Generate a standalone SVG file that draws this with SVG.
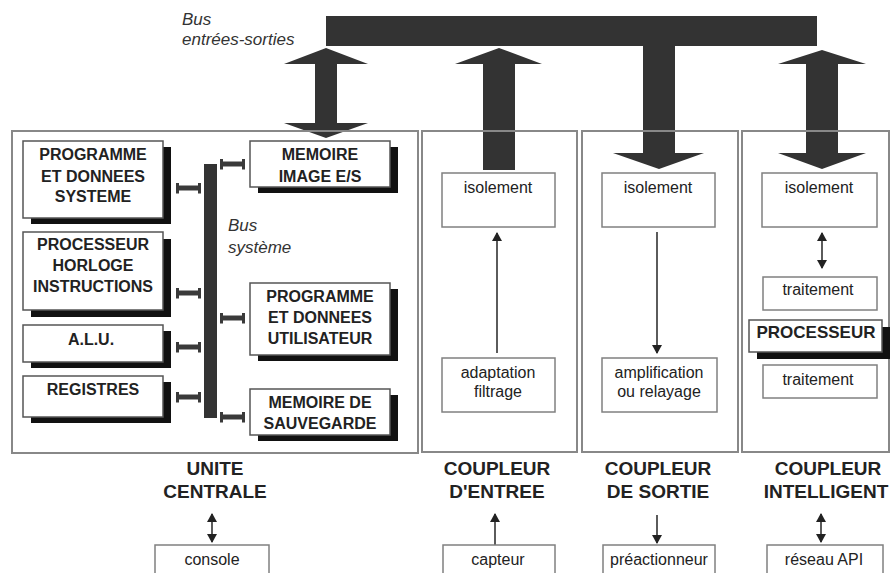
<svg xmlns="http://www.w3.org/2000/svg" width="891" height="573" viewBox="0 0 891 573">
<defs>
<style>
.outer{fill:none;stroke:#888;stroke-width:2}
.ib{fill:#fff;stroke:#555;stroke-width:1.5}
.sh{fill:#111}
.cb{fill:#fff;stroke:#808080;stroke-width:1.5}
.big{fill:#333}
.cap{font-family:"Liberation Sans",Arial,sans-serif;font-weight:bold;font-size:16px;fill:#222;text-anchor:middle}
.lbl{font-family:"Liberation Sans",Arial,sans-serif;font-weight:bold;font-size:19px;fill:#222;text-anchor:middle}
.low{font-family:"Liberation Sans",Arial,sans-serif;font-size:16px;fill:#222;text-anchor:middle}
.it{font-family:"Liberation Sans",Arial,sans-serif;font-style:italic;font-size:17px;fill:#333}
.thin{stroke:#333;stroke-width:1.6;fill:none}
.conn{stroke:#3a3a3a;stroke-width:5;fill:none}
</style>
<marker id="ah" markerUnits="userSpaceOnUse" markerWidth="10" markerHeight="10" refX="8" refY="5" orient="auto-start-reverse">
<path d="M0,0 L9,5 L0,10 Z" fill="#222"/>
</marker>
<marker id="bar" markerUnits="userSpaceOnUse" markerWidth="4" markerHeight="11" refX="2" refY="5.5" orient="auto">
<rect width="3" height="11" fill="#3a3a3a"/>
</marker>
</defs>

<rect x="326" y="16" width="491" height="30" class="big"/>
<text class="it" x="182" y="25">Bus</text>
<text class="it" x="182" y="45">entrées-sorties</text>

<g id="connectors">
<path class="big" d="M326,48 L368,64 L337,64 L337,123 L368,123 L326,138 L284,123 L315,123 L315,64 L284,64 Z"/>
<path class="big" d="M499,48 L542,64 L515,64 L515,170 L483,170 L483,64 L455,64 Z"/>
<path class="big" d="M643,46 L675,46 L675,153 L704,153 L659,169 L613,153 L643,153 Z"/>
<path class="big" d="M822,50 L866,64 L838,64 L838,153 L866,153 L822,169 L778,153 L806,153 L806,64 L778,64 Z"/>
<rect x="204" y="164" width="13" height="254" class="big"/>
<line class="conn" x1="178" y1="188" x2="200" y2="188" marker-start="url(#bar)" marker-end="url(#bar)"/>
<line class="conn" x1="178" y1="293" x2="200" y2="293" marker-start="url(#bar)" marker-end="url(#bar)"/>
<line class="conn" x1="178" y1="347" x2="200" y2="347" marker-start="url(#bar)" marker-end="url(#bar)"/>
<line class="conn" x1="178" y1="397" x2="200" y2="397" marker-start="url(#bar)" marker-end="url(#bar)"/>
<line class="conn" x1="222" y1="164" x2="244" y2="164" marker-start="url(#bar)" marker-end="url(#bar)"/>
<line class="conn" x1="222" y1="318" x2="244" y2="318" marker-start="url(#bar)" marker-end="url(#bar)"/>
<line class="conn" x1="222" y1="417" x2="244" y2="417" marker-start="url(#bar)" marker-end="url(#bar)"/>
<line class="thin" x1="497" y1="353" x2="497" y2="233" marker-end="url(#ah)"/>
<line class="thin" x1="657" y1="232" x2="657" y2="353" marker-end="url(#ah)"/>
<line class="thin" x1="822" y1="233" x2="822" y2="268" marker-start="url(#ah)" marker-end="url(#ah)"/>
<line class="thin" x1="212" y1="514" x2="212" y2="542" marker-start="url(#ah)" marker-end="url(#ah)"/>
<line class="thin" x1="495" y1="545" x2="495" y2="514" marker-end="url(#ah)"/>
<line class="thin" x1="657" y1="515" x2="657" y2="543" marker-end="url(#ah)"/>
<line class="thin" x1="821" y1="514" x2="821" y2="542" marker-start="url(#ah)" marker-end="url(#ah)"/>
</g>

<g id="unite-centrale">
<rect class="outer" x="12" y="131" width="406" height="322"/>
<text class="lbl" x="215" y="475">UNITE</text>
<text class="lbl" x="215" y="498">CENTRALE</text>
</g>
<g id="prog-sys">
<rect class="sh" x="31" y="147" width="140" height="77"/>
<rect class="ib" x="23" y="141" width="140" height="77"/>
<text class="cap" x="93" y="160">PROGRAMME</text>
<text class="cap" x="93" y="182">ET DONNEES</text>
<text class="cap" x="93" y="202">SYSTEME</text>
</g>
<g id="processeur-uc">
<rect class="sh" x="31" y="239" width="140" height="78"/>
<rect class="ib" x="23" y="232" width="140" height="78"/>
<text class="cap" x="93" y="250">PROCESSEUR</text>
<text class="cap" x="93" y="271">HORLOGE</text>
<text class="cap" x="93" y="292">INSTRUCTIONS</text>
</g>
<g id="alu">
<rect class="sh" x="31" y="331" width="140" height="37"/>
<rect class="ib" x="23" y="325" width="140" height="37"/>
<text class="cap" x="91" y="345">A.L.U.</text>
</g>
<g id="registres">
<rect class="sh" x="31" y="382" width="140" height="41"/>
<rect class="ib" x="23" y="376" width="140" height="41"/>
<text class="cap" x="93" y="395">REGISTRES</text>
</g>
<g id="memoire-image">
<rect class="sh" x="258" y="147" width="140" height="46"/>
<rect class="ib" x="250" y="141" width="140" height="46"/>
<text class="cap" x="320" y="160">MEMOIRE</text>
<text class="cap" x="320" y="182">IMAGE E/S</text>
</g>
<g id="prog-util">
<rect class="sh" x="258" y="289" width="140" height="72"/>
<rect class="ib" x="250" y="283" width="140" height="72"/>
<text class="cap" x="320" y="302">PROGRAMME</text>
<text class="cap" x="320" y="323">ET DONNEES</text>
<text class="cap" x="320" y="344">UTILISATEUR</text>
</g>
<g id="memoire-sauvegarde">
<rect class="sh" x="258" y="395" width="140" height="46"/>
<rect class="ib" x="250" y="389" width="140" height="46"/>
<text class="cap" x="320" y="408">MEMOIRE DE</text>
<text class="cap" x="320" y="429">SAUVEGARDE</text>
</g>
<text class="it" x="228" y="231">Bus</text>
<text class="it" x="228" y="253">système</text>
<g id="console">
<rect class="cb" x="155" y="545" width="114" height="36"/>
<text class="low" x="212" y="565">console</text>
</g>

<g id="coupleur-entree">
<rect class="outer" x="422" y="131" width="155" height="321"/>
<text class="lbl" x="497" y="475">COUPLEUR</text>
<text class="lbl" x="497" y="498">D'ENTREE</text>
</g>
<g id="isolement-e">
<rect class="cb" x="442" y="173" width="113" height="54"/>
<text class="low" x="498" y="193">isolement</text>
</g>
<g id="adaptation">
<rect class="cb" x="442" y="358" width="113" height="54"/>
<text class="low" x="498" y="378">adaptation</text>
<text class="low" x="498" y="397">filtrage</text>
</g>
<g id="capteur">
<rect class="cb" x="443" y="545" width="112" height="36"/>
<text class="low" x="498" y="565">capteur</text>
</g>

<g id="coupleur-sortie">
<rect class="outer" x="582" y="131" width="156" height="321"/>
<text class="lbl" x="658" y="475">COUPLEUR</text>
<text class="lbl" x="658" y="498">DE SORTIE</text>
</g>
<g id="isolement-s">
<rect class="cb" x="602" y="173" width="113" height="54"/>
<text class="low" x="658" y="193">isolement</text>
</g>
<g id="amplification">
<rect class="cb" x="602" y="358" width="115" height="54"/>
<text class="low" x="659" y="378">amplification</text>
<text class="low" x="659" y="397">ou relayage</text>
</g>
<g id="preactionneur">
<rect class="cb" x="603" y="545" width="112" height="36"/>
<text class="low" x="659" y="565">préactionneur</text>
</g>

<g id="coupleur-intelligent">
<rect class="outer" x="742" y="131" width="147" height="321"/>
<text class="lbl" x="828" y="475">COUPLEUR</text>
<text class="lbl" x="826" y="498">INTELLIGENT</text>
</g>
<g id="isolement-i">
<rect class="cb" x="762" y="173" width="115" height="54"/>
<text class="low" x="819" y="193">isolement</text>
</g>
<g id="traitement-1">
<rect class="cb" x="763" y="277" width="114" height="33"/>
<text class="low" x="818" y="295">traitement</text>
</g>
<g id="processeur-i">
<rect class="sh" x="757" y="327" width="133" height="32"/>
<rect class="ib" x="749" y="320" width="133" height="32"/>
<text class="cap" x="816" y="338" style="font-size:17px">PROCESSEUR</text>
</g>
<g id="traitement-2">
<rect class="cb" x="763" y="365" width="114" height="33"/>
<text class="low" x="818" y="385">traitement</text>
</g>
<g id="reseau-api">
<rect class="cb" x="767" y="545" width="116" height="36"/>
<text class="low" x="824" y="565">réseau API</text>
</g>
</svg>
